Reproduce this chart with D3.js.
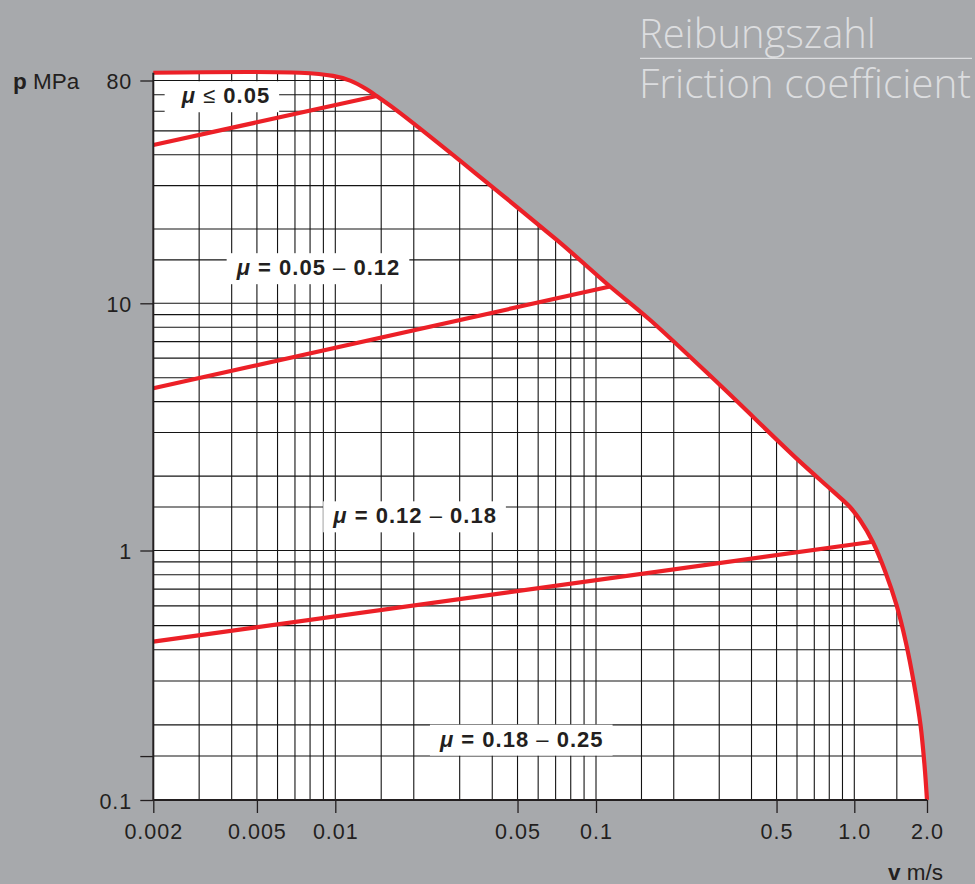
<!DOCTYPE html>
<html><head><meta charset="utf-8">
<script src="https://cdn.jsdelivr.net/npm/d3@7"></script>
<style>
html,body{margin:0;padding:0;background:#a7a9ac;}
svg{display:block;}
</style></head><body>
<svg id="chart" width="975" height="884"></svg>
<script>
// ---- data ----
const boundaryV = [0.002, 0.0073, 0.0098, 0.0114, 0.0132, 0.0144, 0.0177, 0.0707, 0.1133, 0.162, 0.302, 0.607, 0.83, 0.962, 1.056, 1.192, 1.340, 1.495, 1.637, 1.767, 1.880, 1.953, 2.0];
const boundaryP = [86, 86, 83.5, 79.9, 73.7, 69.2, 59.1, 18.06, 11.7, 8.56, 4.67, 2.32, 1.73, 1.50, 1.328, 1.085, 0.828, 0.605, 0.426, 0.292, 0.200, 0.138, 0.1];

const limitLow  = {v: [0.002, 0.0144], p: [43.8, 69.2]};   // mu <= 0.05 / 0.05-0.12
const limitMid  = {v: [0.002, 0.1133], p: [4.53, 11.7]};   // 0.05-0.12 / 0.12-0.18
const limitHigh = {v: [0.002, 1.192],  p: [0.431, 1.085]}; // 0.12-0.18 / 0.18-0.25

const gridV = [0.002,0.003,0.004,0.005,0.006,0.007,0.008,0.009,0.01,0.015,0.02,0.03,0.04,0.05,0.06,0.07,0.08,0.09,0.1,0.15,0.2,0.3,0.4,0.5,0.6,0.7,0.8,0.9,1,1.5,2];
const gridP = [0.1,0.15,0.2,0.3,0.4,0.5,0.6,0.7,0.8,0.9,1,1.5,2,3,4,5,6,7,8,9,10,15,20,30,40,50,60,70,80];

const xTickValues = [0.002,0.005,0.01,0.05,0.1,0.5,1,2];
const xTickLabels = ["0.002","0.005","0.01","0.05","0.1","0.5","1.0","2.0"];
const yTickValues = [0.1,0.15,1,10,80];
const yTickLabels = ["0.1","","1","10","80"];

const zoneLabels = ["μ ≤ 0.05","μ = 0.05 – 0.12","μ = 0.12 – 0.18","μ = 0.18 – 0.25"];
const zoneLabelV = [0.00257, 0.00418, 0.00982, 0.0252];
const zoneLabelP = [64.7, 13.0, 1.288, 0.1636];

const titleDe = "Reibungszahl";
const titleEn = "Friction coefficient";

// ---- scales ----
const x = d3.scaleLog().domain([0.002,0.01,0.1,1,2]).range([153.3,335.3,596,854.3,927]);
const y = d3.scaleLog().domain([0.1,1,10,80]).range([800,550.5,303.3,80.5]);

const svg = d3.select("#chart");
const FONT = "'Liberation Sans', Arial, Helvetica, sans-serif";
const RED = "#ec2027";
const GRAY = "#a7a9ac";
const INK = "#231f20";

svg.append("rect").attr("width",975).attr("height",884).attr("fill",GRAY);

const boundary = boundaryV.map((v,i)=>[v,boundaryP[i]]);
const crv = d3.curveCatmullRom.alpha(0.5);
const area = d3.area().x(d=>x(d[0])).y0(y(0.1)).y1(d=>y(d[1])).curve(crv);
const line = d3.line().x(d=>x(d[0])).y(d=>y(d[1])).curve(crv);

svg.append("clipPath").attr("id","clipArea").append("path").attr("d",area(boundary));
svg.append("path").attr("d",area(boundary)).attr("fill","#fff");

const grid = svg.append("g").attr("clip-path","url(#clipArea)")
  .attr("stroke","#141414").attr("stroke-width",1.1);
grid.selectAll("line.v").data(gridV).join("line").attr("class","v")
  .attr("x1",d=>x(d)).attr("x2",d=>x(d)).attr("y1",y(0.1)).attr("y2",y(100));
grid.selectAll("line.h").data(gridP).join("line").attr("class","h")
  .attr("y1",d=>y(d)).attr("y2",d=>y(d)).attr("x1",x(0.002)).attr("x2",x(2));

// zone labels with white boxes
const lblG = svg.append("g");
zoneLabels.forEach((s,i)=>{
  const g = lblG.append("g");
  const rect = g.append("rect").attr("fill","#fff");
  const t = g.append("text").attr("x",x(zoneLabelV[i])).attr("y",y(zoneLabelP[i]))
    .attr("font-family",FONT).attr("font-size",22).attr("fill",INK)
    .attr("letter-spacing",1.0);
  for (const ch of s) {
    const ts = t.append("tspan").text(ch);
    if (ch === "μ") ts.attr("font-weight","bold").attr("font-style","italic");
    else if (ch === "≤" || ch === "–") ts.attr("font-weight","normal");
    else ts.attr("font-weight","bold");
  }
  const b = t.node().getBBox();
  const padL = i===0 ? 16 : 9, padR = 9;
  rect.attr("x",b.x-padL).attr("width",b.width+padL+padR)
      .attr("y",y(zoneLabelP[i])-22).attr("height",31);
});

// red limit lines
[limitLow, limitMid, limitHigh].forEach(L=>{
  svg.append("path").attr("d",d3.line().x(d=>x(d[0])).y(d=>y(d[1]))(L.v.map((v,i)=>[v,L.p[i]])))
    .attr("fill","none").attr("stroke",RED).attr("stroke-width",4.2);
});
svg.append("path").attr("d",line(boundary)).attr("fill","none")
  .attr("stroke",RED).attr("stroke-width",4.2).attr("stroke-linejoin","round");

// axes
const yAxis = d3.axisLeft(y).tickValues(yTickValues).tickFormat((d,i)=>yTickLabels[i]).tickSize(13).tickPadding(8);
const gy = svg.append("g").attr("transform",`translate(${x(0.002)},0)`).call(yAxis);
gy.select(".domain").remove();
gy.selectAll(".tick line").attr("stroke",INK).attr("stroke-width",1.3);
gy.selectAll(".tick text").attr("font-family",FONT).attr("font-size",21.5).attr("fill",INK)
  .attr("letter-spacing",1).attr("dy","0.38em");

const xAxis = d3.axisBottom(x).tickValues(xTickValues).tickFormat((d,i)=>xTickLabels[i]).tickSize(13).tickPadding(8);
const gx = svg.append("g").attr("transform",`translate(0,${y(0.1)})`).call(xAxis);
gx.select(".domain").remove();
gx.selectAll(".tick line").attr("stroke",INK).attr("stroke-width",1.3);
gx.selectAll(".tick text").attr("font-family",FONT).attr("font-size",21.5).attr("fill",INK)
  .attr("letter-spacing",1).attr("y",38.5).attr("dy",0);

// axis lines
svg.append("line").attr("x1",x(0.002)).attr("x2",x(0.002)).attr("y1",y(boundaryP[0])).attr("y2",y(0.1))
  .attr("stroke",INK).attr("stroke-width",2);
svg.append("line").attr("x1",x(0.002)).attr("x2",x(2)).attr("y1",y(0.1)).attr("y2",y(0.1))
  .attr("stroke",INK).attr("stroke-width",2);

// axis titles
const pt = svg.append("text").attr("x",13).attr("y",89.3).attr("font-family",FONT).attr("font-size",22.5).attr("fill",INK);
pt.append("tspan").attr("font-weight","bold").text("p");
pt.append("tspan").text(" MPa");
const vt = svg.append("text").attr("x",943).attr("y",880).attr("text-anchor","end").attr("font-family",FONT).attr("font-size",22.5).attr("fill",INK);
vt.append("tspan").attr("font-weight","bold").text("v");
vt.append("tspan").text(" m/s");

// title
const TFONT = "'Open Sans', 'Noto Sans', sans-serif";
function fitText(str, xPos, yPos, width) {
  const t = svg.append("text").attr("x",xPos).attr("y",yPos).attr("font-family",TFONT)
    .attr("font-weight",300).attr("font-size",40).attr("fill","#dcdddf").text(str);
  const w = t.node().getComputedTextLength();
  t.attr("font-size", 40*width/w);
  return t;
}
fitText(titleDe, 639, 48.3, 237);
svg.append("line").attr("x1",640).attr("x2",972).attr("y1",58.3).attr("y2",58.3)
  .attr("stroke","#dcdddf").attr("stroke-width",1.2);
fitText(titleEn, 639, 98.3, 332);
</script>
</body></html>
